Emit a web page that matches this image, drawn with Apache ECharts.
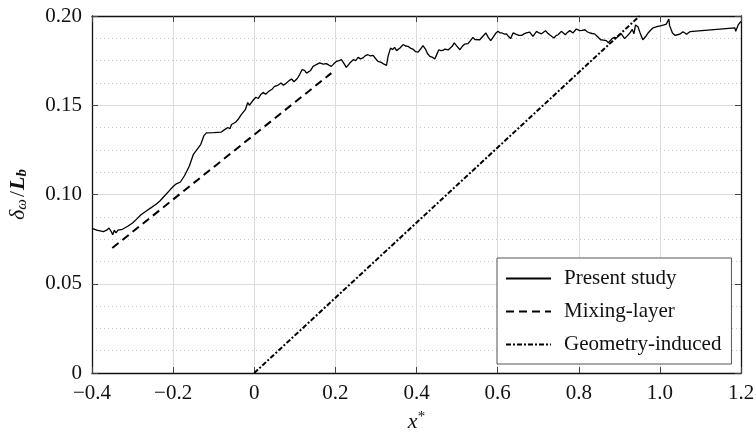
<!DOCTYPE html>
<html>
<head>
<meta charset="utf-8">
<script src="https://cdn.jsdelivr.net/npm/echarts@6/dist/echarts.min.js"></script>
<style>html,body{margin:0;padding:0;background:#fff}#c{width:756px;height:433px}</style>
</head>
<body>
<div id="c"></div>
<script>
// ---- data ----
var presentX = [-0.400,-0.388,-0.372,-0.364,-0.358,-0.352,-0.349,-0.345,-0.341,-0.336,-0.325,-0.312,-0.300,-0.290,-0.280,-0.268,-0.255,-0.242,-0.232,-0.222,-0.212,-0.200,-0.192,-0.182,-0.172,-0.160,-0.150,-0.140,-0.132,-0.124,-0.118,-0.100,-0.081,-0.074,-0.070,-0.065,-0.060,-0.056,-0.052,-0.046,-0.040,-0.036,-0.032,-0.028,-0.022,-0.016,-0.012,-0.004,0.004,0.010,0.016,0.022,0.028,0.036,0.044,0.050,0.058,0.066,0.072,0.078,0.086,0.092,0.098,0.106,0.112,0.118,0.124,0.129,0.133,0.139,0.145,0.153,0.161,0.170,0.178,0.184,0.190,0.196,0.203,0.209,0.215,0.221,0.227,0.235,0.244,0.250,0.256,0.262,0.268,0.274,0.280,0.287,0.293,0.299,0.305,0.313,0.320,0.326,0.330,0.336,0.341,0.346,0.351,0.354,0.360,0.367,0.373,0.379,0.385,0.391,0.398,0.404,0.410,0.416,0.422,0.427,0.433,0.440,0.445,0.450,0.455,0.460,0.465,0.470,0.474,0.478,0.482,0.488,0.493,0.500,0.507,0.513,0.519,0.527,0.533,0.539,0.544,0.548,0.556,0.563,0.571,0.577,0.583,0.590,0.596,0.601,0.606,0.611,0.617,0.622,0.627,0.632,0.638,0.645,0.652,0.659,0.665,0.671,0.679,0.687,0.696,0.702,0.708,0.718,0.723,0.728,0.734,0.739,0.744,0.749,0.757,0.762,0.767,0.772,0.778,0.786,0.794,0.802,0.808,0.815,0.821,0.827,0.833,0.839,0.846,0.854,0.861,0.868,0.873,0.876,0.882,0.888,0.893,0.899,0.905,0.913,0.920,0.926,0.932,0.936,0.940,0.946,0.952,0.958,0.965,0.971,0.977,0.983,0.989,0.995,1.004,1.010,1.016,1.022,1.024,1.031,1.037,1.043,1.049,1.057,1.066,1.074,1.185,1.187,1.193,1.200];
var presentY = [0.0810,0.0800,0.0792,0.0800,0.0812,0.0790,0.0775,0.0800,0.0785,0.0800,0.0805,0.0822,0.0840,0.0862,0.0885,0.0905,0.0925,0.0945,0.0965,0.0990,0.1015,0.1045,0.1060,0.1070,0.1105,0.1160,0.1225,0.1255,0.1280,0.1330,0.1345,0.1347,0.1350,0.1362,0.1355,0.1375,0.1368,0.1392,0.1385,0.1405,0.1420,0.1412,0.1447,0.1440,0.1475,0.1515,0.1500,0.1525,0.1545,0.1538,0.1560,0.1572,0.1562,0.1578,0.1590,0.1606,0.1612,0.1625,0.1612,0.1622,0.1638,0.1647,0.1632,0.1650,0.1672,0.1700,0.1695,0.1680,0.1675,0.1695,0.1718,0.1728,0.1737,0.1730,0.1733,0.1725,0.1718,0.1732,0.1746,0.1750,0.1755,0.1735,0.1712,0.1735,0.1755,0.1750,0.1768,0.1760,0.1765,0.1778,0.1783,0.1776,0.1780,0.1762,0.1746,0.1740,0.1730,0.1723,0.1775,0.1820,0.1812,0.1824,0.1806,0.1800,0.1822,0.1840,0.1832,0.1830,0.1820,0.1815,0.1800,0.1798,0.1815,0.1834,0.1815,0.1790,0.1774,0.1768,0.1759,0.1785,0.1811,0.1806,0.1807,0.1815,0.1820,0.1810,0.1806,0.1830,0.1849,0.1830,0.1811,0.1830,0.1843,0.1845,0.1862,0.1880,0.1868,0.1873,0.1867,0.1885,0.1905,0.1880,0.1862,0.1885,0.1905,0.1914,0.1905,0.1905,0.1898,0.1900,0.1885,0.1873,0.1905,0.1898,0.1892,0.1891,0.1900,0.1905,0.1910,0.1886,0.1914,0.1905,0.1900,0.1918,0.1905,0.1895,0.1885,0.1877,0.1890,0.1895,0.1914,0.1905,0.1895,0.1908,0.1918,0.1905,0.1927,0.1918,0.1920,0.1923,0.1912,0.1905,0.1902,0.1900,0.1885,0.1867,0.1865,0.1862,0.1850,0.1843,0.1873,0.1880,0.1877,0.1890,0.1900,0.1873,0.1890,0.1905,0.1925,0.1900,0.1950,0.1940,0.1900,0.1867,0.1885,0.1905,0.1920,0.1933,0.1938,0.1942,0.1946,0.1950,0.1955,0.1983,0.1946,0.1905,0.1892,0.1895,0.1898,0.1912,0.1898,0.1912,0.1933,0.1914,0.1950,0.1970];
var mixingX = [-0.350, 0.190];
var mixingY = [0.0700, 0.1680];
var geometryX = [0.000, 0.950];
var geometryY = [0.000, 0.200];
var seriesNames = ['Present study', 'Mixing-layer', 'Geometry-induced'];
var xTicks = {'-0.4':'\u22120.4','-0.2':'\u22120.2','0':'0','0.2':'0.2','0.4':'0.4','0.6':'0.6','0.8':'0.8','1':'1.0','1.2':'1.2'};
var yTicks = {'0':'0','0.05':'0.05','0.1':'0.10','0.15':'0.15','0.2':'0.20'};

function zip(xs, ys){ return xs.map(function(x,i){return [x, ys[i]];}); }

var FONT = '"Liberation Serif", "DejaVu Serif", serif';
var chart = echarts.init(document.getElementById('c'), null, {renderer:'canvas'});
var gridLine = {show:true, lineStyle:{color:'#dcdcdc', width:1}};
var xCommon = {type:'value', min:-0.4, max:1.2, interval:0.2};
var yCommon = {type:'value', min:0, max:0.2, interval:0.05};
var tickStyle = {show:true, inside:true, length:6, lineStyle:{color:'#444', width:1}};

chart.setOption({
  animation:false,
  backgroundColor:'#fff',
  grid:{left:92, right:15, top:16, bottom:60, containLabel:false, outerBoundsMode:'none'},
  legend:{
    orient:'vertical', left:497, top:258,
    data:seriesNames,
    itemWidth:45, itemHeight:12, itemGap:12,
    padding:[10,10,9,8],
    borderColor:'#555', borderWidth:1, borderRadius:0,
    backgroundColor:'#fff',
    itemStyle:{opacity:0},
    textStyle:{fontFamily:FONT, fontSize:21, color:'#111', padding:[0,0,0,8]}
  },
  xAxis:[
    Object.assign({}, xCommon, {
      position:'bottom',
      axisLine:{show:true, onZero:false, lineStyle:{color:'#111', width:1.3}},
      axisTick:tickStyle,
      splitLine:gridLine,
      axisLabel:{fontFamily:FONT, fontSize:21, color:'#111', margin:10,
        formatter:function(v){ var k=String(Math.round(v*10)/10); return xTicks[k]!==undefined?xTicks[k]:k; }},
      name:'{i|x}{sup|*}', nameLocation:'middle', nameGap:37,
      nameTextStyle:{fontFamily:FONT, color:'#111', rich:{
        i:{fontFamily:FONT, fontStyle:'italic', fontSize:22, color:'#111'},
        sup:{fontFamily:FONT, fontSize:15, color:'#111', padding:[0,0,10,0]}
      }}
    }),
    Object.assign({}, xCommon, {
      position:'top',
      axisLine:{show:true, onZero:false, lineStyle:{color:'#111', width:1.3}},
      axisTick:tickStyle, axisLabel:{show:false}, splitLine:{show:false}
    })
  ],
  yAxis:[
    Object.assign({}, yCommon, {
      position:'left',
      axisLine:{show:true, onZero:false, lineStyle:{color:'#111', width:1.3}},
      axisTick:tickStyle,
      splitLine:gridLine,
      minorTick:{show:false, splitNumber:4},
      minorSplitLine:{show:true, lineStyle:{color:'#c8c8c8', width:1, type:[1,3]}},
      axisLabel:{fontFamily:FONT, fontSize:21, color:'#111', margin:10,
        formatter:function(v){ var k=String(Math.round(v*100)/100); return yTicks[k]!==undefined?yTicks[k]:k; }},
      name:'{i|\u03b4}{sub|\u03c9}{n|/}{b|L}{sub2|b}', nameLocation:'middle', nameGap:62, nameRotate:90,
      nameTextStyle:{fontFamily:FONT, color:'#111', rich:{
        i:{fontFamily:FONT, fontStyle:'italic', fontSize:22, color:'#111'},
        sub:{fontFamily:FONT, fontStyle:'italic', fontSize:15, color:'#111', padding:[9,1,0,0]},
        n:{fontFamily:FONT, fontSize:22, color:'#111', padding:[0,1,0,1]},
        b:{fontFamily:FONT, fontStyle:'italic', fontWeight:'bold', fontSize:22, color:'#111'},
        sub2:{fontFamily:FONT, fontStyle:'italic', fontWeight:'bold', fontSize:15, color:'#111', padding:[9,0,0,0]}
      }}
    }),
    Object.assign({}, yCommon, {
      position:'right',
      axisLine:{show:true, onZero:false, lineStyle:{color:'#111', width:1.3}},
      axisTick:tickStyle, axisLabel:{show:false}, splitLine:{show:false}
    })
  ],
  series:[
    {name:seriesNames[0], type:'line', xAxisIndex:0, yAxisIndex:0, data:zip(presentX, presentY),
     symbol:'none', smooth:false, lineStyle:{color:'#000', width:1.3, type:'solid'}, itemStyle:{color:'#000'}, z:5},
    {name:seriesNames[1], type:'line', xAxisIndex:0, yAxisIndex:0, data:zip(mixingX, mixingY),
     symbol:'none', lineStyle:{color:'#000', width:2, type:[8,5]}, itemStyle:{color:'#000'}, z:4},
    {name:seriesNames[2], type:'line', xAxisIndex:0, yAxisIndex:0, data:zip(geometryX, geometryY),
     symbol:'none', lineStyle:{color:'#000', width:2, type:[5,2,2,2]}, itemStyle:{color:'#000'}, z:4}
  ]
});
</script>
</body>
</html>
